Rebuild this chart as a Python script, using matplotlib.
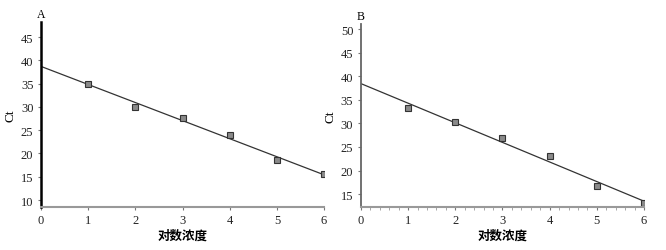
import numpy as np
import matplotlib.pyplot as plt
from matplotlib.ticker import MultipleLocator

plt.rcParams['font.family'] = ['Liberation Serif', 'Noto Sans CJK SC']

# 数据
log_conc = [1, 2, 3, 4, 5, 6]
ct_a = [35.0, 30.0, 27.7, 24.0, 18.5, 15.5]
ct_b = [33.3, 30.2, 27.0, 23.0, 16.7, 13.1]
yticks_a = [10, 15, 20, 25, 30, 35, 40, 45]
yticks_b = [15, 20, 25, 30, 35, 40, 45, 50]
xticks = [0, 1, 2, 3, 4, 5, 6]

fig = plt.figure(figsize=(6.66, 2.51), dpi=100)
axA = fig.add_axes([0.0616, 0.171, 0.425, 0.737])
axB = fig.add_axes([0.542, 0.171, 0.425, 0.729])


def panel(ax, y, yticks, ylim, tag, left_col, left_lw, minor):
    xs = np.array(log_conc)
    k, b = np.polyfit(xs, y, 1)
    xx = np.array([0, 6])
    ax.plot(xx, k * xx + b, color='#333333', lw=0.9)
    ax.plot(xs, y, 's', ms=5, mfc='#8a8a8a', mec='#333333', mew=0.8)
    ax.set_xlim(0, 6)
    ax.set_ylim(*ylim)
    ax.set_xticks(xticks)
    ax.set_yticks(yticks)
    if minor:
        ax.xaxis.set_minor_locator(MultipleLocator(0.2))
        ax.tick_params(axis='x', which='minor', length=2, color='#999999')
    for s in ['top', 'right']:
        ax.spines[s].set_visible(False)
    ax.spines['left'].set_color(left_col)
    ax.spines['left'].set_linewidth(left_lw)
    ax.spines['bottom'].set_color('#999999')
    ax.spines['bottom'].set_linewidth(1.5)
    ax.tick_params(axis='both', labelsize=9, length=2, color='#777777', colors='#222222')
    ax.tick_params(axis='x', pad=3)
    ax.set_xlabel('对数浓度', fontsize=9, fontweight='bold', family=['Noto Sans CJK SC'], labelpad=2)
    ax.set_ylabel('Ct', fontsize=9.5, labelpad=3)
    ax.text(0, 1.01, tag, transform=ax.transAxes, ha='center', va='bottom', fontsize=8.5)


panel(axA, ct_a, yticks_a, (8.5, 48.2), 'A', 'black', 1.8, False)
panel(axB, ct_b, yticks_b, (12.24, 51.06), 'B', '#666666', 1.3, True)

fig.savefig('out.png', dpi=100)
